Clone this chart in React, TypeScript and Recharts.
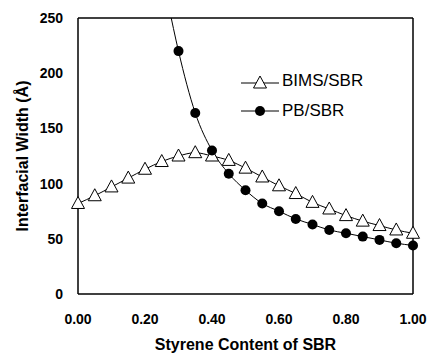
import { LineChart, Line, XAxis, YAxis, ReferenceLine } from 'recharts';

// BIMS/SBR, every 0.05 of styrene content
const bimsX = [0, 0.05, 0.1, 0.15, 0.2, 0.25, 0.3, 0.35, 0.4, 0.45, 0.5, 0.55, 0.6, 0.65, 0.7, 0.75, 0.8, 0.85, 0.9, 0.95, 1.0];
const bimsY = [82, 89, 97, 105, 113, 120, 125, 128, 125, 121, 114, 106, 98, 91, 83, 77, 71, 66, 62, 58, 55];

// PB/SBR; the first point has no marker, the curve runs off the top of the frame
const pbX = [0.27, 0.3, 0.35, 0.4, 0.45, 0.5, 0.55, 0.6, 0.65, 0.7, 0.75, 0.8, 0.85, 0.9, 0.95, 1.0];
const pbY = [262, 220, 164, 130, 109, 94, 82, 75, 68, 63, 58, 55, 52, 49, 46, 44];

const xTicks = [0, 0.2, 0.4, 0.6, 0.8, 1.0];
const yTicks = [0, 50, 100, 150, 200, 250];

const bimsData = bimsX.map((x, i) => ({ x, y: bimsY[i] }));
const pbData = pbX.map((x, i) => ({ x, y: pbY[i], marker: i > 0 }));

const font = 'Liberation Sans, Arial, sans-serif';

const Triangle = (props: any) => {
  const { cx, cy } = props;
  if (cx == null || cy == null) return null;
  return (
    <path
      d={`M${cx},${cy - 7} L${cx + 6.5},${cy + 5} L${cx - 6.5},${cy + 5} Z`}
      fill="#fff"
      stroke="#000"
      strokeWidth={1}
    />
  );
};

const Dot = (props: any) => {
  const { cx, cy, payload } = props;
  if (cx == null || cy == null || !payload.marker) return null;
  return <circle cx={cx} cy={cy} r={5} fill="#000" />;
};

const LegendBox = () => (
  <div
    style={{
      position: 'absolute',
      left: 241,
      top: 66,
      fontFamily: font,
      fontSize: 17,
      lineHeight: '30px',
    }}
  >
    <div style={{ display: 'flex', alignItems: 'center' }}>
      <svg width={38} height={16}>
        <line x1={0} y1={10} x2={38} y2={10} stroke="#000" />
        <path d="M19,3 L25.5,15 L12.5,15 Z" fill="#fff" stroke="#000" />
      </svg>
      <span style={{ marginLeft: 3 }}>BIMS/SBR</span>
    </div>
    <div style={{ display: 'flex', alignItems: 'center' }}>
      <svg width={38} height={16}>
        <line x1={0} y1={8} x2={38} y2={8} stroke="#000" />
        <circle cx={19} cy={8} r={5} fill="#000" />
      </svg>
      <span style={{ marginLeft: 3 }}>PB/SBR</span>
    </div>
  </div>
);

const tickStyle = { fontSize: 14, fontWeight: 'bold', fill: '#000', fontFamily: font };

export default function App() {
  return (
    <div style={{ position: 'absolute', left: 0, top: 0, width: 431, height: 354, background: '#fff' }}>
      <LineChart
        width={431}
        height={354}
        data={bimsData}
        margin={{ top: 18, right: 18, bottom: 0, left: 0 }}
      >
        <XAxis
          dataKey="x"
          type="number"
          domain={[0, 1]}
          ticks={xTicks}
          tickFormatter={(v) => v.toFixed(2)}
          tick={tickStyle}
          tickLine={false}
          axisLine={{ stroke: '#000', strokeWidth: 1.5 }}
          tickMargin={14}
          height={60}
          allowDuplicatedCategory={false}
          label={{
            value: 'Styrene Content of SBR',
            position: 'insideBottom',
            offset: 4,
            style: { fontSize: 16, fontWeight: 'bold', fill: '#000', fontFamily: font },
          }}
        />
        <YAxis
          type="number"
          domain={[0, 250]}
          allowDataOverflow
          ticks={yTicks}
          tick={tickStyle}
          tickLine={false}
          axisLine={{ stroke: '#000', strokeWidth: 1.5 }}
          tickMargin={9}
          width={78}
          label={{
            value: 'Interfacial Width (Å)',
            angle: -90,
            position: 'insideLeft',
            offset: 22,
            style: { textAnchor: 'middle', fontSize: 16, fontWeight: 'bold', fill: '#000', fontFamily: font },
          }}
        />
        {/* top and right edges of the frame */}
        <ReferenceLine y={250} stroke="#000" strokeWidth={1.5} ifOverflow="extendDomain" />
        <ReferenceLine x={1} stroke="#000" strokeWidth={1.5} ifOverflow="extendDomain" />
        <Line
          data={bimsData}
          dataKey="y"
          name="BIMS/SBR"
          type="monotone"
          stroke="#000"
          strokeWidth={1}
          dot={<Triangle />}
          isAnimationActive={false}
        />
        <Line
          data={pbData}
          dataKey="y"
          name="PB/SBR"
          type="monotone"
          stroke="#000"
          strokeWidth={1}
          dot={<Dot />}
          isAnimationActive={false}
        />
      </LineChart>
      <LegendBox />
    </div>
  );
}
